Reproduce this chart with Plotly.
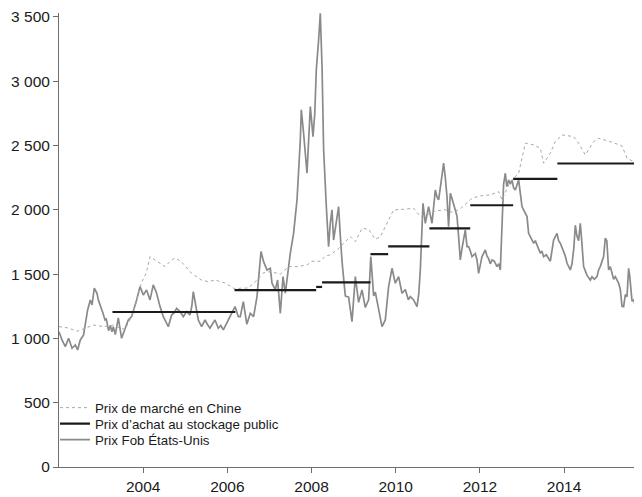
import plotly.graph_objects as go

# ---------------- data ----------------
# Prix Fob États-Unis (decimal years, value)
FOB_YEARS = [
    2002.000, 2002.071, 2002.150, 2002.228, 2002.309, 2002.387, 2002.442, 2002.506, 2002.584, 2002.637,
    2002.680, 2002.744, 2002.784, 2002.839, 2002.903, 2002.934, 2002.981, 2003.045, 2003.093, 2003.124,
    2003.178, 2003.219, 2003.259, 2003.290, 2003.338, 2003.409, 2003.487, 2003.568, 2003.646, 2003.725,
    2003.789, 2003.844, 2003.924, 2003.967, 2004.003, 2004.081, 2004.122, 2004.162, 2004.240, 2004.319,
    2004.400, 2004.442, 2004.478, 2004.537, 2004.597, 2004.675, 2004.739, 2004.794, 2004.875, 2004.953,
    2005.032, 2005.112, 2005.155, 2005.191, 2005.245, 2005.310, 2005.388, 2005.469, 2005.523, 2005.588,
    2005.642, 2005.706, 2005.785, 2005.844, 2005.904, 2005.982, 2006.034, 2006.101, 2006.182, 2006.260,
    2006.307, 2006.379, 2006.462, 2006.545, 2006.623, 2006.704, 2006.799, 2006.861, 2006.942, 2007.020,
    2007.061, 2007.139, 2007.194, 2007.258, 2007.322, 2007.377, 2007.417, 2007.495, 2007.574, 2007.655,
    2007.733, 2007.757, 2007.811, 2007.852, 2007.892, 2007.971, 2008.035, 2008.077, 2008.113, 2008.168,
    2008.208, 2008.249, 2008.287, 2008.351, 2008.405, 2008.446, 2008.486, 2008.524, 2008.565, 2008.643,
    2008.683, 2008.724, 2008.802, 2008.881, 2008.961, 2009.040, 2009.118, 2009.199, 2009.277, 2009.356,
    2009.408, 2009.475, 2009.515, 2009.593, 2009.674, 2009.752, 2009.831, 2009.912, 2009.990, 2010.069,
    2010.149, 2010.228, 2010.299, 2010.347, 2010.425, 2010.506, 2010.548, 2010.584, 2010.648, 2010.703,
    2010.781, 2010.862, 2010.941, 2010.981, 2011.019, 2011.071, 2011.138, 2011.178, 2011.218, 2011.256,
    2011.297, 2011.344, 2011.416, 2011.456, 2011.494, 2011.534, 2011.575, 2011.613, 2011.653, 2011.694,
    2011.732, 2011.772, 2011.813, 2011.891, 2011.931, 2011.969, 2012.010, 2012.050, 2012.128, 2012.169,
    2012.207, 2012.247, 2012.288, 2012.342, 2012.406, 2012.449, 2012.485, 2012.525, 2012.563, 2012.604,
    2012.639, 2012.682, 2012.722, 2012.763, 2012.801, 2012.841, 2012.920, 2012.960, 2013.000, 2013.038,
    2013.079, 2013.119, 2013.157, 2013.197, 2013.238, 2013.276, 2013.316, 2013.395, 2013.435, 2013.471,
    2013.514, 2013.578, 2013.625, 2013.673, 2013.751, 2013.791, 2013.832, 2013.870, 2013.910, 2013.989,
    2014.029, 2014.070, 2014.108, 2014.148, 2014.188, 2014.231, 2014.267, 2014.302, 2014.345, 2014.385,
    2014.421, 2014.464, 2014.545, 2014.587, 2014.623, 2014.663, 2014.718, 2014.782, 2014.820, 2014.861,
    2014.901, 2014.939, 2014.979, 2015.015, 2015.058, 2015.098, 2015.177, 2015.217, 2015.295, 2015.336,
    2015.376, 2015.414, 2015.455, 2015.495, 2015.533, 2015.561, 2015.614, 2015.657, 2015.692, 2015.740,
    2015.771, 2015.811, 2015.851,
]
FOB_VALUES = [
    1052, 988, 936, 1001, 923, 949, 910, 988, 1027, 1120,
    1221, 1299, 1260, 1390, 1351, 1300, 1260, 1195, 1143, 1150,
    1060, 1100, 1052, 1090, 1030, 1160, 1001, 1066, 1143, 1169,
    1230, 1299, 1402, 1360, 1338, 1377, 1330, 1299, 1416, 1351,
    1247, 1200, 1169, 1130, 1091, 1182, 1200, 1234, 1208, 1169,
    1208, 1182, 1250, 1364, 1247, 1143, 1091, 1143, 1110, 1079,
    1110, 1143, 1079, 1100, 1066, 1117, 1140, 1182, 1247, 1169,
    1169, 1286, 1110, 1195, 1169, 1325, 1675, 1597, 1532, 1545,
    1429, 1377, 1454, 1195, 1480, 1351, 1468, 1662, 1818, 2077,
    2543, 2777, 2595, 2450, 2284, 2802, 2569, 2750, 3088, 3321,
    3528, 3113, 2466, 2025, 1713, 1900, 1999, 1765, 1850, 2025,
    1800, 1600, 1330, 1320, 1130, 1480, 1280, 1377, 1240, 1300,
    1636, 1330, 1360, 1221, 1091, 1143, 1402, 1545, 1429, 1480,
    1351, 1380, 1300, 1325, 1299, 1247, 1350, 1532, 2050, 1895,
    2025, 1895, 2154, 2100, 2077, 2200, 2362, 2250, 2102, 1869,
    2128, 2080, 1990, 1950, 1791, 1610, 1700, 1765, 1843, 1713,
    1713, 1680, 1636, 1660, 1610, 1506, 1560, 1636, 1688, 1640,
    1620, 1580, 1610, 1600, 1558, 1580, 1532, 1900, 2200, 2284,
    2180, 2232, 2200, 2230, 2170, 2154, 2232, 2128, 2025, 1999,
    1973, 1947, 1817, 1791, 1765, 1740, 1760, 1688, 1662, 1680,
    1636, 1650, 1620, 1600, 1765, 1791, 1817, 1760, 1740, 1675,
    1640, 1584, 1558, 1532, 1580, 1700, 1880, 1800, 1760, 1895,
    1750, 1558, 1490, 1470, 1454, 1480, 1460, 1480, 1532, 1560,
    1610, 1636, 1780, 1760, 1532, 1558, 1460, 1480, 1430, 1380,
    1250, 1247, 1340, 1325, 1545, 1480, 1290, 1300, 1247, 1300,
    1360, 1330, 1390,
]

# Prix de marché en Chine
CHINA_YEARS = [
    2002.000, 2002.221, 2002.428, 2002.625, 2002.822, 2003.060, 2003.297, 2003.456, 2003.568, 2003.694,
    2003.806, 2003.955, 2004.074, 2004.162, 2004.281, 2004.407, 2004.518, 2004.644, 2004.756, 2004.906,
    2005.024, 2005.143, 2005.381, 2005.547, 2005.706, 2005.944, 2006.182, 2006.307, 2006.498, 2006.704,
    2006.854, 2007.020, 2007.258, 2007.455, 2007.655, 2007.892, 2008.011, 2008.208, 2008.327, 2008.446,
    2008.605, 2008.762, 2008.921, 2009.040, 2009.199, 2009.356, 2009.515, 2009.634, 2009.793, 2009.950,
    2010.187, 2010.425, 2010.584, 2010.743, 2010.941, 2011.178, 2011.344, 2011.534, 2011.813, 2012.010,
    2012.247, 2012.444, 2012.525, 2012.722, 2012.920, 2013.079, 2013.276, 2013.435, 2013.514, 2013.673,
    2013.791, 2013.951, 2014.226, 2014.345, 2014.504, 2014.702, 2014.820, 2015.098, 2015.376, 2015.495,
    2015.652, 2015.811, 2015.851,
]
CHINA_VALUES = [
    1091, 1081, 1055, 1079, 1104, 1091, 1104, 1079, 1070, 1150,
    1247, 1431, 1508, 1636, 1610, 1580, 1558, 1600, 1625, 1597,
    1550, 1509, 1454, 1441, 1454, 1431, 1384, 1390, 1392, 1454,
    1510, 1519, 1500, 1558, 1558, 1571, 1600, 1600, 1640, 1650,
    1688, 1740, 1791, 1752, 1856, 1848, 1771, 1791, 1895, 1999,
    2004, 2012, 1947, 1960, 1990, 2000, 1980, 2007, 2090, 2108,
    2116, 2141, 2077, 2219, 2284, 2518, 2505, 2479, 2362, 2440,
    2530, 2582, 2569, 2518, 2427, 2530, 2556, 2530, 2497, 2401,
    2375, 2362, 2258,
]

# Prix d'achat au stockage public (start, end, price)
STOCK_START = [2003.27, 2006.17, 2008.11, 2008.25, 2009.40, 2009.82, 2010.80, 2011.77, 2012.79, 2013.84]
STOCK_END   = [2006.19, 2008.11, 2008.25, 2009.40, 2009.82, 2010.80, 2011.77, 2012.79, 2013.84, 2015.86]
STOCK_PRICE = [1205, 1375, 1400, 1435, 1655, 1715, 1855, 2035, 2240, 2360]

X_TICKS = [2004, 2006, 2008, 2010, 2012, 2014]
X_TICK_LABELS = ["2004", "2006", "2008", "2010", "2012", "2014"]
Y_TICKS = [0, 500, 1000, 1500, 2000, 2500, 3000, 3500]

# build stepped segments for the stockpiling price
sx, sy = [], []
for a, b, p in zip(STOCK_START, STOCK_END, STOCK_PRICE):
    sx += [a, b, None]
    sy += [p, p, None]

FONT = "Liberation Sans, Arial, sans-serif"
TXT = "#1a1a1a"
AX = "#6e6e6e"

fig = go.Figure()
fig.add_trace(go.Scatter(
    x=FOB_YEARS, y=FOB_VALUES, mode="lines", name="Prix Fob États-Unis",
    line=dict(color="#8a8a8a", width=1.7), legend="legend3",
))
fig.add_trace(go.Scatter(
    x=CHINA_YEARS, y=CHINA_VALUES, mode="lines", name="Prix de marché en Chine",
    line=dict(color="#a8a8a8", width=1, dash="dot"), legend="legend",
))
fig.add_trace(go.Scatter(
    x=sx, y=sy, mode="lines", name="Prix d’achat au stockage public",
    line=dict(color="#1a1a1a", width=2.2), legend="legend2", connectgaps=False,
))

# the page body adds an 8px offset; figure is sized so the visible window matches
leg_common = dict(
    x=-0.0069, xanchor="left", yanchor="middle",
    bgcolor="rgba(0,0,0,0)", font=dict(size=13.3, family=FONT, color=TXT),
    itemwidth=30,
)
fig.update_layout(
    width=634, height=489,
    margin=dict(l=51, r=0, t=5, b=30, autoexpand=False),
    paper_bgcolor="white", plot_bgcolor="white",
    font=dict(family=FONT, color=TXT, size=15.5),
    separators=", ",
    showlegend=True,
    legend=dict(y=0.130, **leg_common),
    legend2=dict(y=0.0947, **leg_common),
    legend3=dict(y=0.0595, **leg_common),
)
fig.update_xaxes(
    range=[2002.0, 2015.851], showgrid=False, zeroline=False,
    showline=True, linecolor=AX, linewidth=1,
    ticks="outside", ticklen=5, tickcolor=AX,
    tickvals=X_TICKS, ticktext=X_TICK_LABELS,
)
fig.update_yaxes(
    range=[0, 3530], showgrid=False, zeroline=False,
    showline=True, linecolor=AX, linewidth=1,
    ticks="outside", ticklen=5, tickcolor=AX,
    tickvals=Y_TICKS, tickformat=",d",
)

fig.write_html("out.html")
